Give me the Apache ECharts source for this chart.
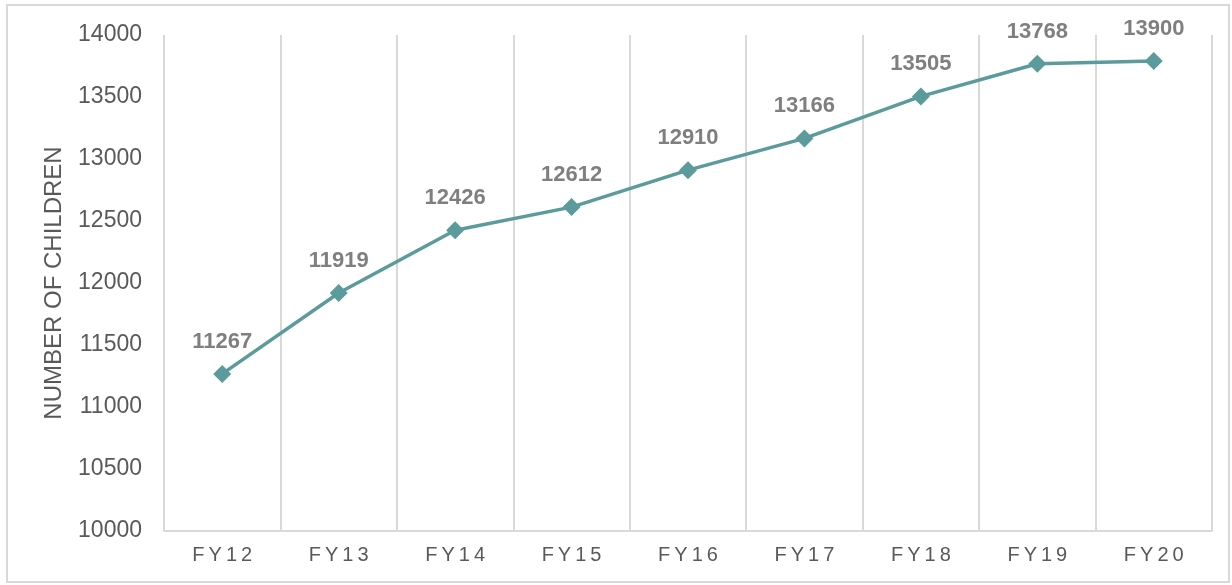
<!DOCTYPE html>
<html>
<head>
<meta charset="utf-8">
<script src="https://cdn.jsdelivr.net/npm/echarts@6/dist/echarts.min.js"></script>
<style>
  html, body { margin: 0; padding: 0; background: #fff; }
  #chart { width: 1232px; height: 585px; }
</style>
</head>
<body>
<div id="chart"></div>
<script>
// fiscal years and children counts
var years = ['FY12', 'FY13', 'FY14', 'FY15', 'FY16', 'FY17', 'FY18', 'FY19', 'FY20'];
var children = [11267, 11919, 12426, 12612, 12910, 13166, 13505, 13768, 13790];
// labels as printed on the chart (last one differs from the plotted point)
var labelText = ['11267', '11919', '12426', '12612', '12910', '13166', '13505', '13768', '13900'];
var yTicks = [10000, 10500, 11000, 11500, 12000, 12500, 13000, 13500, 14000];

var myChart = echarts.init(document.getElementById('chart'));

var option = {
    backgroundColor: '#fff',
    animation: false,
    graphic: [{
        type: 'rect',
        shape: { x: 7, y: 5, width: 1222, height: 577 },
        style: { fill: 'none', stroke: '#d9d9d9', lineWidth: 2 }
    }],
    grid: { left: 164, right: 20, top: 35, bottom: 54 },
    xAxis: {
        type: 'category',
        data: years,
        boundaryGap: true,
        axisLine: { show: true, lineStyle: { color: '#d9d9d9', width: 2 } },
        axisTick: { show: false },
        splitLine: { show: true, lineStyle: { color: '#d9d9d9', width: 2 } },
        axisLabel: {
            color: '#595959',
            fontSize: 20,
            fontFamily: 'Liberation Sans, Arial, sans-serif',
            margin: 14,
            formatter: function (v) { return v.split('').join('\u2009'); }
        }
    },
    yAxis: {
        type: 'value',
        min: yTicks[0],
        max: yTicks[yTicks.length - 1],
        interval: 500,
        name: 'NUMBER OF CHILDREN',
        nameLocation: 'middle',
        nameGap: 98,
        nameTextStyle: {
            color: '#595959',
            fontSize: 24,
            fontFamily: 'Liberation Sans, Arial, sans-serif'
        },
        axisLine: { show: false },
        axisTick: { show: false },
        splitLine: { show: false },
        axisLabel: {
            color: '#595959',
            fontSize: 23,
            fontFamily: 'Liberation Sans, Arial, sans-serif',
            margin: 22,
            formatter: function (v) { return String(v); }
        }
    },
    series: [{
        type: 'line',
        data: children,
        symbol: 'diamond',
        symbolSize: 18,
        lineStyle: { color: '#5b9b9b', width: 3.5 },
        itemStyle: { color: '#5b9b9b' },
        label: {
            show: true,
            position: 'top',
            distance: 12,
            color: '#7f7f7f',
            fontSize: 22,
            fontWeight: 'bold',
            fontFamily: 'Liberation Sans, Arial, sans-serif',
            formatter: function (p) { return labelText[p.dataIndex]; }
        }
    }]
};

myChart.setOption(option);
</script>
</body>
</html>
